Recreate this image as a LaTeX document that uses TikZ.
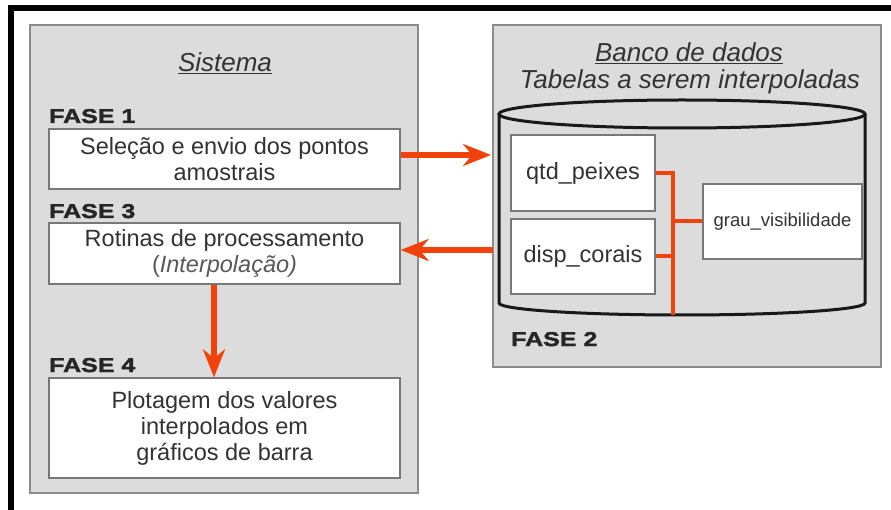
\documentclass[tikz,border=0pt]{standalone}
\usepackage{fontspec}
\usepackage{graphicx}
\setmainfont{Liberation Sans}
\newfontfamily\fasefam[FakeBold=2,FakeStretch=1.25]{Liberation Sans Bold}
\usetikzlibrary{arrows.meta}
\definecolor{orng}{RGB}{240,66,10}
\definecolor{panel}{RGB}{220,220,220}
\definecolor{panelline}{RGB}{140,140,140}
\definecolor{boxline}{RGB}{120,120,120}
\definecolor{txt}{RGB}{51,51,51}
\begin{document}
\begin{tikzpicture}[x=1pt,y=-1pt,
  panelbox/.style={draw=panelline,fill=panel,line width=1.5pt},
  tbox/.style={draw=boxline,fill=white,line width=1.3pt,align=center,text=txt,
    font=\fontsize{23.5}{26}\selectfont,inner sep=0pt},
  phase/.style={anchor=base west,inner sep=0pt,font=\fasefam\fontsize{20}{22}\selectfont,text=black!85},
  ttl/.style={anchor=base,inner sep=0pt,font=\fontsize{26}{28}\selectfont\itshape,text=txt},
  bigarrow/.style={draw=orng,line width=6pt,-{Stealth[length=28pt,width=22pt,inset=9pt,fill=orng]}},
  conn/.style={draw=orng,line width=4pt},
  cyl/.style={draw=black!90,line width=3pt}]
\useasboundingbox (0,0) rectangle (891,510);
% outer frame
\draw[line width=6pt] (11,515) -- (11,8) -- (895,8);
% panels
\draw[panelbox] (30,25) rectangle (418,493);
\draw[panelbox] (493,25) rectangle (881,367);
% titles
\node[ttl] (sis) at (225,72) {\underline{Sistema}};
\node[ttl] (banco) at (689,62) {\underline{Banco de dados}};
\node[ttl] (tab) at (690,89) {Tabelas a serem interpoladas};
% phase labels
\node[phase] (p1) at (49,123) {FASE 1};
\node[phase] (p3) at (49,218) {FASE 3};
\node[phase] (p4) at (49,372) {FASE 4};
\node[phase] (p2) at (511,346) {FASE 2};
% left boxes
\node[tbox,minimum width=351pt,minimum height=60pt] (f1) at (224.5,159)
  {Seleção e envio dos pontos\\amostrais};
\node[tbox,minimum width=351pt,minimum height=61pt] (f3) at (224.5,253.5)
  {Rotinas de processamento\\{\color{black!65}(\textit{Interpolação)}}};
\node[tbox,minimum width=351pt,minimum height=100pt] (f4) at (224.5,428)
  {Plotagem dos valores\\interpolados em\\gráficos de barra};
% database boxes
\node[tbox,minimum width=144pt,minimum height=76pt] (qtd) at (583,173) {qtd\_peixes};
\node[tbox,minimum width=144pt,minimum height=75pt] (disp) at (583,256.5) {disp\_corais};
\node[tbox,minimum width=159pt,minimum height=75pt,font=\fontsize{18.5}{20}\selectfont] (grau) at (782.5,221.5) {grau\_visibilidade};
% cylinder
\draw[cyl] (682,114) ellipse[x radius=183,y radius=14];
\draw[cyl] (499,114) -- (499,303) arc[start angle=180,end angle=0,x radius=183,y radius=12] -- (865,114);
% connectors inside the database
\coordinate (bus) at (673,315);
\draw[conn] (qtd.east) -- (qtd.east -| bus) -- (bus);
\draw[conn] (disp.east) -- (disp.east -| bus);
\draw[conn] (grau.west) -- (grau.west -| bus);
% arrows
\coordinate (inA) at (491,155);
\coordinate (outB) at (493,250);
\coordinate (dx) at (214,0);
\draw[bigarrow] (f1.east |- inA) -- (inA);
\draw[bigarrow] (outB) -- (f3.east |- outB);
\draw[bigarrow] (f3.south -| dx) -- (f4.north -| dx);
\end{tikzpicture}
\end{document}
